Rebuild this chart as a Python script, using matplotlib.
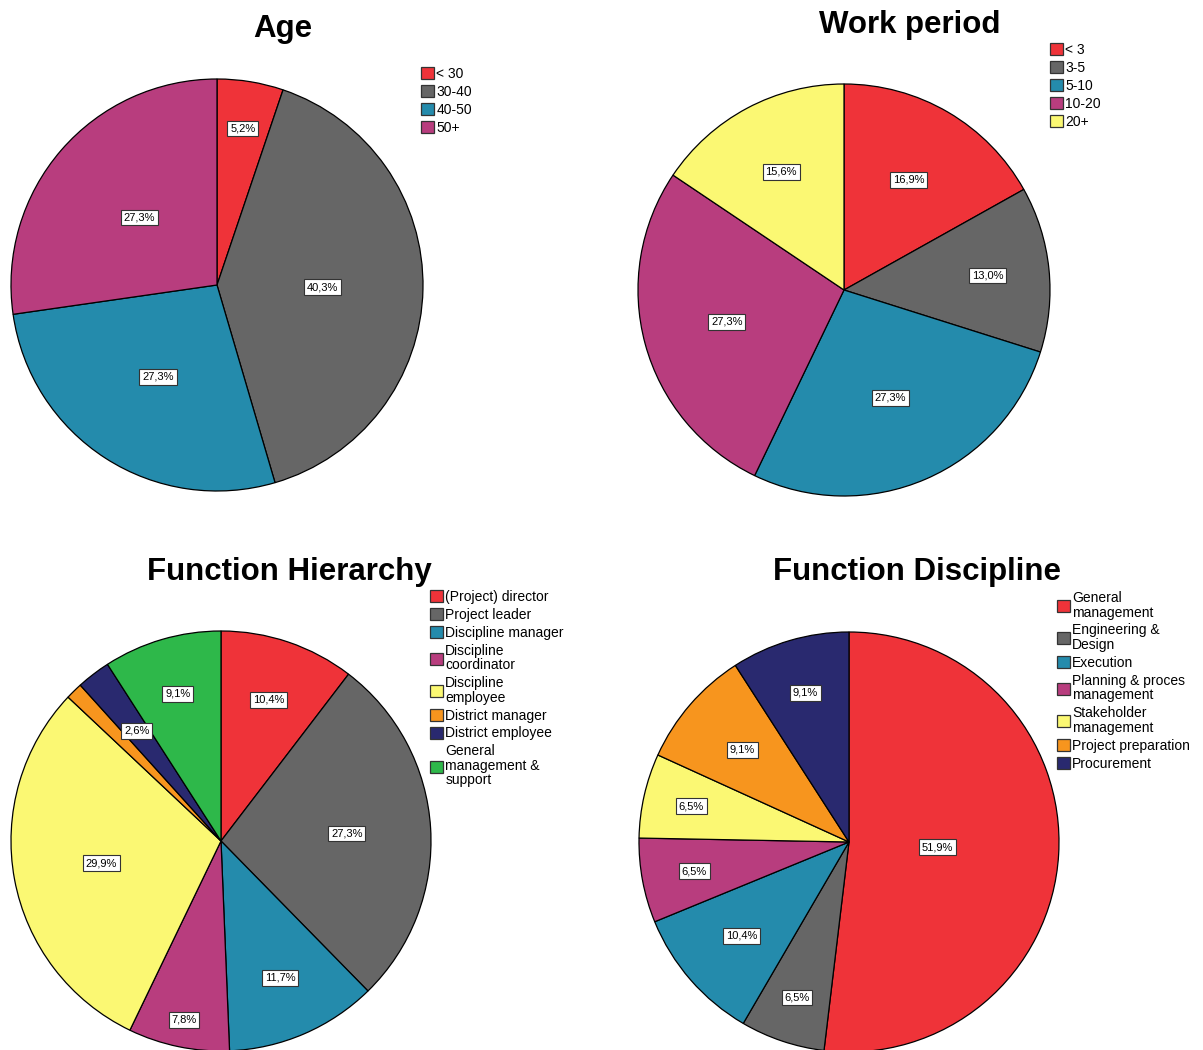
import numpy as np
import matplotlib
matplotlib.use("Agg")
import matplotlib.pyplot as plt

plt.rcParams["font.family"] = ["Liberation Sans", "DejaVu Sans"]

# ---- data (percent of respondents) ----
age_labels = ["< 30", "30-40", "40-50", "50+"]
age_values = [5.2, 40.3, 27.3, 27.3]

work_labels = ["< 3", "3-5", "5-10", "10-20", "20+"]
work_values = [16.9, 13.0, 27.3, 27.3, 15.6]

hier_labels = ["(Project) director", "Project leader", "Discipline manager",
               "Discipline\ncoordinator", "Discipline\nemployee", "District manager",
               "District employee", "General\nmanagement &\nsupport"]
hier_values = [10.4, 27.3, 11.7, 7.8, 29.9, 1.3, 2.6, 9.1]
hier_shown = [True, True, True, True, True, False, True, True]

disc_labels = ["General\nmanagement", "Engineering &\nDesign", "Execution",
               "Planning & proces\nmanagement", "Stakeholder\nmanagement",
               "Project preparation", "Procurement"]
disc_values = [51.9, 6.5, 10.4, 6.5, 6.5, 9.1, 9.1]

# ---- styling ----
palette = ["#EF3339", "#666666", "#248BAC", "#B83D7E", "#FBF873",
           "#F7951E", "#29296F", "#2EB84A"]

W, H = 1203, 1050
fig = plt.figure(figsize=(W / 100, H / 100), dpi=100)


def pie_axes(cx, cy, r):
    ax = fig.add_axes([(cx - r) / W, 1 - (cy + r) / H, 2 * r / W, 2 * r / H])
    ax.set_axis_off()
    return ax


def draw_pie(ax, values, labels, label_dist, shown=None, title="", title_xy=None,
             legend_xy=None):
    n = len(values)
    wedges, _ = ax.pie(values, colors=palette[:n], startangle=90, counterclock=False,
                       radius=1.0, normalize=True,
                       wedgeprops=dict(edgecolor="black", linewidth=0.9))
    ax.set_xlim(-1, 1)
    ax.set_ylim(-1, 1)
    ax.set_aspect("auto")
    for w in wedges:
        w.set_clip_on(False)
    for i, (w, v) in enumerate(zip(wedges, values)):
        if shown is not None and not shown[i]:
            continue
        ang = np.deg2rad((w.theta1 + w.theta2) / 2)
        d = label_dist[i]
        ax.text(d * np.cos(ang), d * np.sin(ang), f"{v:.1f}%".replace(".", ","),
                ha="center", va="center", fontsize=8,
                bbox=dict(boxstyle="square,pad=0.25", facecolor="white",
                          edgecolor="#333333", linewidth=0.8))
    fig.text(title_xy[0] / W, 1 - title_xy[1] / H, title, ha="center", va="center",
             fontsize=22.5, fontweight="bold")
    leg = fig.legend(wedges, labels, loc="upper left",
                     bbox_to_anchor=(legend_xy[0] / W, 1 - legend_xy[1] / H),
                     frameon=False, fontsize=10, handlelength=0.95, handleheight=0.95,
                     handletextpad=0.15, labelspacing=0.28, borderaxespad=0,
                     borderpad=0)
    for t in leg.get_texts():
        t.set_linespacing(1.05)
    for h in leg.legend_handles:
        h.set_edgecolor("#333333")
        h.set_linewidth(0.9)


ax1 = pie_axes(217, 285, 206)
draw_pie(ax1, age_values, age_labels, [0.77, 0.51, 0.53, 0.5],
         title="Age", title_xy=(283, 29), legend_xy=(421, 67))

ax2 = pie_axes(844, 290, 206)
draw_pie(ax2, work_values, work_labels, [0.62, 0.70, 0.57, 0.59, 0.65],
         title="Work period", title_xy=(910, 25), legend_xy=(1050, 43))

ax3 = pie_axes(221, 841, 210)
draw_pie(ax3, hier_values, hier_labels, [0.71, 0.6, 0.71, 0.87, 0.58, 0.7, 0.66, 0.73],
         shown=hier_shown, title="Function Hierarchy", title_xy=(289, 572),
         legend_xy=(430, 590))

ax4 = pie_axes(849, 842, 210)
draw_pie(ax4, disc_values, disc_labels, [0.42, 0.78, 0.68, 0.75, 0.77, 0.67, 0.74],
         title="Function Discipline", title_xy=(917, 572), legend_xy=(1057, 591))

fig.savefig("out.png", dpi=100, facecolor="white")
